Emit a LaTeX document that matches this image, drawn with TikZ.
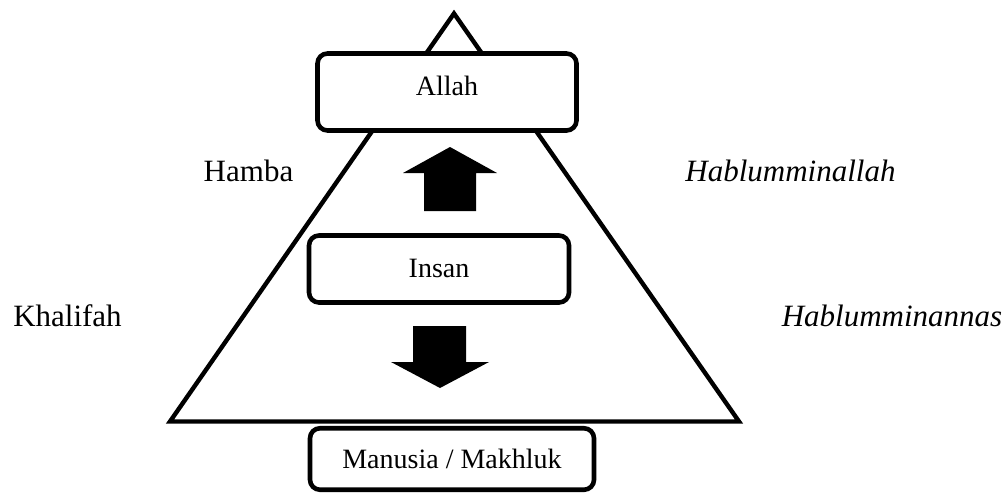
\documentclass[tikz,border=0pt]{standalone}
\usepackage{fontspec}
\setmainfont{Liberation Serif}
\begin{document}
\begin{tikzpicture}[x=1pt,y=-1pt,
  box/.style={draw, line width=4.6pt, rounded corners=10pt, fill=white, inner sep=0pt, outer sep=0pt, font=\fontsize{28}{30}\selectfont},
  lbl/.style={anchor=base, inner sep=0pt, font=\fontsize{31}{34}\selectfont},
  blockarrow/.style={fill=black}]
\useasboundingbox (0,0) rectangle (1007,493);
% pyramid
\draw[line width=4.4pt, line join=miter] (454,13.5) -- (739,421.5) -- (170,421.5) -- cycle;
% boxes
\node[box, minimum width=259pt, minimum height=77pt, text height=22pt, text depth=16pt] (allah) at (447,92) {Allah};
\node[box, minimum width=260pt, minimum height=67pt, text height=22pt, text depth=6pt] (insan) at (439,269) {Insan};
\node[box, minimum width=284pt, minimum height=61.5pt, text height=22pt, text depth=4pt] (manusia) at (452,459) {Manusia / Makhluk};
% block arrows
\fill[blockarrow] (450,147) -- (497,173) -- (476,173) -- (476,211) -- (424,211) -- (424,173) -- (403,173) -- cycle;
\fill[blockarrow] (440,388) -- (489,362) -- (466,362) -- (466,326) -- (413,326) -- (413,362) -- (391,362) -- cycle;
% side labels
\node[lbl] (hamba) at (248.5,181) {Hamba};
\node[lbl] (hallah) at (790.5,181) {\itshape Hablumminallah};
\node[lbl] (khalifah) at (67.5,326) {Khalifah};
\node[lbl] (hannas) at (892,326) {\itshape Hablumminannas};
\end{tikzpicture}
\end{document}
